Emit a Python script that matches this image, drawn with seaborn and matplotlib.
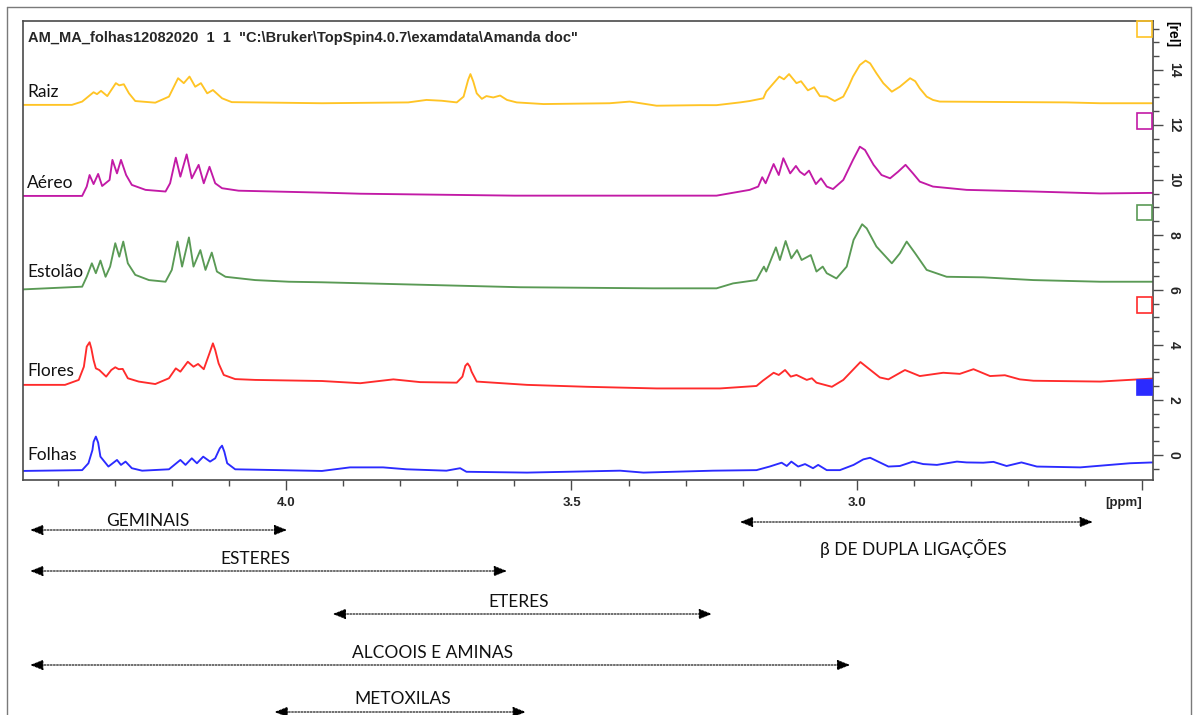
import matplotlib
matplotlib.use("Agg")
import matplotlib.pyplot as plt
from matplotlib.lines import Line2D
from matplotlib.patches import Rectangle
from matplotlib.ticker import MultipleLocator, FixedLocator, FixedFormatter
import matplotlib.transforms as mtransforms
import pandas as pd
import seaborn as sns

# ---- stacked 1H spectra (chemical shift in ppm, relative intensity) ----
raiz_ppm = [4.462, 4.375, 4.357, 4.337, 4.331, 4.324, 4.313, 4.298, 4.292, 4.284,
            4.275, 4.264, 4.229, 4.205, 4.189, 4.179, 4.169, 4.159, 4.149, 4.138,
            4.128, 4.112, 4.095, 3.937, 3.786, 3.754, 3.727, 3.701, 3.689, 3.681,
            3.677, 3.672, 3.666, 3.657, 3.649, 3.637, 3.625, 3.613, 3.596, 3.549,
            3.433, 3.398, 3.351, 3.275, 3.246, 3.205, 3.188, 3.164, 3.159, 3.136,
            3.128, 3.119, 3.106, 3.098, 3.086, 3.075, 3.065, 3.053, 3.039, 3.024,
            3.015, 3.007, 2.995, 2.985, 2.977, 2.966, 2.954, 2.939, 2.925, 2.907,
            2.898, 2.890, 2.878, 2.867, 2.855, 2.633, 2.574, 2.482]
raiz_int = [12.73, 12.73, 12.85, 13.19, 13.12, 13.24, 13.05, 13.52, 13.44, 13.48,
            13.15, 12.87, 12.81, 13.03, 13.70, 13.52, 13.76, 13.39, 13.52, 13.15,
            13.27, 12.97, 12.83, 12.79, 12.82, 12.91, 12.88, 12.82, 13.03, 13.64,
            13.85, 13.58, 13.15, 12.95, 13.05, 13.00, 13.07, 12.91, 12.82, 12.76,
            12.79, 12.85, 12.70, 12.72, 12.72, 12.82, 12.87, 12.97, 13.21, 13.76,
            13.66, 13.85, 13.52, 13.59, 13.26, 13.37, 13.05, 13.03, 12.87, 13.03,
            13.39, 13.76, 14.18, 14.34, 14.24, 13.88, 13.52, 13.21, 13.39, 13.70,
            13.59, 13.33, 13.03, 12.91, 12.85, 12.82, 12.79, 12.79]

aereo_ppm = [4.462, 4.357, 4.349, 4.344, 4.337, 4.329, 4.322, 4.309, 4.304, 4.296,
             4.289, 4.280, 4.270, 4.246, 4.211, 4.203, 4.193, 4.185, 4.174, 4.165,
             4.153, 4.144, 4.134, 4.124, 4.112, 4.083, 3.937, 3.870, 3.600, 3.246,
             3.188, 3.173, 3.166, 3.160, 3.146, 3.137, 3.129, 3.117, 3.107, 3.100,
             3.092, 3.084, 3.072, 3.063, 3.053, 3.042, 3.024, 3.007, 2.995, 2.986,
             2.971, 2.957, 2.942, 2.928, 2.915, 2.902, 2.890, 2.867, 2.808, 2.691,
             2.574, 2.482]
aereo_int = [9.42, 9.42, 9.76, 10.18, 9.85, 10.22, 9.78, 10.00, 10.73, 10.24,
             10.73, 10.18, 9.82, 9.64, 9.58, 9.88, 10.81, 10.12, 10.93, 10.06,
             10.55, 9.88, 10.48, 9.88, 9.70, 9.61, 9.54, 9.50, 9.43, 9.43,
             9.64, 9.76, 10.10, 9.88, 10.58, 10.18, 10.79, 10.24, 10.51, 10.30,
             10.18, 10.34, 9.85, 10.06, 9.76, 9.67, 10.00, 10.73, 11.21, 11.09,
             10.55, 10.18, 10.06, 10.30, 10.55, 10.24, 9.94, 9.76, 9.64, 9.58,
             9.51, 9.53]

estolao_ppm = [4.462, 4.357, 4.349, 4.340, 4.333, 4.325, 4.316, 4.308, 4.299, 4.292,
               4.285, 4.277, 4.264, 4.240, 4.211, 4.200, 4.190, 4.182, 4.170, 4.162,
               4.150, 4.141, 4.130, 4.121, 4.106, 4.054, 3.995, 3.937, 3.590, 3.357,
               3.246, 3.217, 3.176, 3.168, 3.163, 3.159, 3.142, 3.135, 3.125, 3.115,
               3.105, 3.097, 3.081, 3.071, 3.060, 3.053, 3.036, 3.018, 3.006, 2.991,
               2.983, 2.966, 2.939, 2.925, 2.913, 2.898, 2.878, 2.843, 2.779, 2.691,
               2.574, 2.482]
estolao_int = [6.02, 6.12, 6.48, 6.97, 6.61, 7.07, 6.48, 6.85, 7.70, 7.21,
               7.76, 6.97, 6.55, 6.36, 6.30, 6.73, 7.76, 6.85, 7.91, 6.85,
               7.45, 6.73, 7.36, 6.67, 6.48, 6.36, 6.30, 6.28, 6.10, 6.06,
               6.06, 6.24, 6.36, 6.67, 6.85, 6.67, 7.55, 7.09, 7.78, 7.15,
               7.45, 7.09, 7.27, 6.67, 6.85, 6.61, 6.42, 6.85, 7.82, 8.39,
               8.24, 7.58, 6.97, 7.33, 7.76, 7.33, 6.73, 6.48, 6.46, 6.36,
               6.30, 6.30]

flores_ppm = [4.462, 4.387, 4.363, 4.354, 4.349, 4.344, 4.341, 4.337, 4.333, 4.327,
              4.315, 4.306, 4.299, 4.293, 4.286, 4.277, 4.258, 4.229, 4.205, 4.193,
              4.185, 4.172, 4.162, 4.154, 4.144, 4.134, 4.128, 4.124, 4.118, 4.109,
              4.089, 4.054, 3.937, 3.870, 3.812, 3.765, 3.701, 3.691, 3.686, 3.682,
              3.678, 3.675, 3.666, 3.578, 3.473, 3.351, 3.240, 3.176, 3.165, 3.146,
              3.137, 3.126, 3.116, 3.106, 3.088, 3.079, 3.071, 3.044, 3.024, 2.994,
              2.960, 2.945, 2.916, 2.890, 2.849, 2.820, 2.796, 2.767, 2.741, 2.715,
              2.691, 2.574, 2.482]
flores_int = [2.55, 2.55, 2.73, 3.21, 3.94, 4.10, 3.88, 3.45, 3.15, 3.09,
              2.85, 3.09, 3.19, 3.12, 3.13, 2.79, 2.67, 2.58, 2.79, 3.15,
              3.03, 3.39, 3.21, 3.31, 3.12, 3.70, 4.06, 3.82, 3.33, 2.91,
              2.76, 2.73, 2.69, 2.61, 2.75, 2.65, 2.63, 2.85, 3.24, 3.33,
              3.21, 3.03, 2.67, 2.55, 2.48, 2.42, 2.42, 2.51, 2.70, 2.99,
              2.91, 3.09, 2.85, 2.91, 2.73, 2.79, 2.63, 2.48, 2.73, 3.38,
              2.82, 2.75, 3.09, 2.87, 2.99, 2.95, 3.12, 2.87, 2.90, 2.75,
              2.70, 2.67, 2.78]

folhas_ppm = [4.462, 4.357, 4.346, 4.339, 4.337, 4.333, 4.329, 4.325, 4.311, 4.296,
              4.289, 4.281, 4.270, 4.252, 4.205, 4.185, 4.176, 4.165, 4.156, 4.145,
              4.133, 4.124, 4.116, 4.112, 4.108, 4.103, 4.089, 3.937, 3.888, 3.830,
              3.789, 3.719, 3.695, 3.684, 3.578, 3.415, 3.374, 3.252, 3.176, 3.153,
              3.132, 3.123, 3.115, 3.103, 3.091, 3.077, 3.068, 3.053, 3.030, 3.006,
              2.989, 2.977, 2.966, 2.945, 2.925, 2.902, 2.884, 2.860, 2.825, 2.808,
              2.779, 2.761, 2.738, 2.712, 2.685, 2.609, 2.557, 2.522, 2.482]
folhas_int = [-0.58, -0.55, -0.30, 0.18, 0.48, 0.67, 0.45, -0.06, -0.42, -0.18,
              -0.36, -0.24, -0.48, -0.57, -0.52, -0.18, -0.36, -0.12, -0.30, -0.06,
              -0.24, -0.12, 0.24, 0.34, 0.12, -0.30, -0.52, -0.58, -0.45, -0.45,
              -0.52, -0.57, -0.48, -0.61, -0.64, -0.57, -0.64, -0.57, -0.55, -0.42,
              -0.28, -0.40, -0.24, -0.42, -0.33, -0.48, -0.36, -0.55, -0.55, -0.36,
              -0.16, -0.10, -0.21, -0.42, -0.40, -0.24, -0.33, -0.36, -0.24, -0.27,
              -0.28, -0.25, -0.40, -0.27, -0.42, -0.45, -0.36, -0.30, -0.27]

sample_names = ["Raiz", "Aéreo", "Estolão", "Flores", "Folhas"]
sample_colors = ["#FFC425", "#C21AA6", "#5A9A55", "#FF2B2B", "#2B2BFF"]
name_levels = [13.0, 9.72, 6.48, 2.87, -0.18]      # baseline of each sample name
marker_levels = [15.49, 12.15, 8.82, 5.45, 2.45]    # trace selector boxes

# ---- chemical-shift regions marked under the axis ----
region_names = ["GEMINAIS", "ESTERES", "ETERES", "ALCOOIS E AMINAS", "METOXILAS",
                "β DE DUPLA LIGAÇÕES"]
region_start = [4.448, 4.448, 3.918, 4.448, 4.020, 3.205]
region_end = [3.998, 3.613, 3.254, 3.012, 3.580, 2.587]
region_label_ppm = [4.242, 4.054, 3.592, 3.743, 3.795, 2.902]

title_text = 'AM_MA_folhas12082020  1  1  "C:\\Bruker\\TopSpin4.0.7\\examdata\\Amanda doc"'

# ------------------------------------------------------------------------
sns.set_style("white")
plt.rcParams["font.family"] = ["Lato", "DejaVu Sans"]
bold_family = ["Liberation Sans", "DejaVu Sans"]

W, H = 1195, 715
fig = plt.figure(figsize=(W / 100, H / 100), dpi=100)
ax = fig.add_axes([23 / W, 1 - 480 / H, (1153 - 23) / W, (480 - 21) / H])

traces = [(raiz_ppm, raiz_int), (aereo_ppm, aereo_int), (estolao_ppm, estolao_int),
          (flores_ppm, flores_int), (folhas_ppm, folhas_int)]
for (ppm, inten), name, col in zip(traces, sample_names, sample_colors):
    df = pd.DataFrame({"ppm": ppm, "intensity": inten})
    sns.lineplot(data=df, x="ppm", y="intensity", ax=ax, color=col, lw=1.35,
                 sort=False, estimator=None)

ax.set_xlim(4.4606, 2.4816)
ax.set_ylim(-0.909, 15.78)
ax.set_xlabel("")
ax.set_ylabel("")

frame_col = "#4a4a4a"
for sp in ax.spines.values():
    sp.set_color(frame_col)
    sp.set_linewidth(1.2)
    sp.set_visible(True)

# x axis: ticks every 0.1 ppm, labels every 0.5 ppm
ax.xaxis.set_major_locator(FixedLocator([4.0, 3.5, 3.0, 2.5]))
ax.xaxis.set_major_formatter(FixedFormatter(["4.0", "3.5", "3.0", "[ppm]"]))
ax.xaxis.set_minor_locator(MultipleLocator(0.1))
ax.tick_params(axis="x", which="major", direction="out", length=7, width=1,
               color=frame_col, pad=5, bottom=True, top=False)
ax.tick_params(axis="x", which="minor", direction="out", length=4.5, width=1,
               color=frame_col, bottom=True, top=False)
xlabels = ax.get_xticklabels()
for lab in xlabels:
    lab.set_fontfamily(bold_family)
    lab.set_fontweight("bold")
    lab.set_fontsize(9.5)
xlabels[-1].set_horizontalalignment("right")
ax.set_xticklabels(xlabels)

# intensity axis on the right
ax.yaxis.tick_right()
ax.yaxis.set_major_locator(FixedLocator([0, 2, 4, 6, 8, 10, 12, 14]))
ax.yaxis.set_minor_locator(MultipleLocator(0.5))
ax.tick_params(axis="y", which="major", direction="out", length=7, width=1,
               color=frame_col, pad=3, right=True, left=False)
ax.tick_params(axis="y", which="minor", direction="out", length=4, width=1,
               color=frame_col, right=True, left=False)
for lab in ax.get_yticklabels():
    lab.set_fontfamily(bold_family)
    lab.set_fontweight("bold")
    lab.set_fontsize(10)
    lab.set_rotation(-90)
    lab.set_verticalalignment("center")
ax.text(1.0105, 15.3, "[rel]", transform=ax.get_yaxis_transform(), rotation=-90,
        ha="left", va="center", fontsize=10, fontweight="bold",
        fontfamily=bold_family, color="black")

# sample names and selector boxes
for name, lvl in zip(sample_names, name_levels):
    ax.text(4.453, lvl, name, ha="left", va="baseline", fontsize=12.5, color="#111111")

box_tr = mtransforms.blended_transform_factory(ax.transAxes, ax.transData)
bw = 15 / ((1153 - 23))
bh = 0.56
for i, (col, lvl) in enumerate(zip(sample_colors, marker_levels)):
    filled = i == 4
    ax.add_patch(Rectangle((1 - bw - 0.0005, lvl - bh / 2), bw, bh, transform=box_tr,
                           facecolor=col if filled else "none", edgecolor=col,
                           lw=1.2, clip_on=False, zorder=5))

# title line inside the frame
fig.text(28 / W, 1 - 38 / H, title_text, ha="left", va="center", fontsize=10.5,
         fontweight="bold", fontfamily=bold_family)

# region arrows below the axis
arrow_y = [530, 571, 614, 665, 712, 522]
label_y = [521, 559, 602, 653, 699, 548]
for name, x0, x1, xl, ay, ly in zip(region_names, region_start, region_end,
                                    region_label_ppm, arrow_y, label_y):
    ax.annotate("", xy=(x1, 1 - ay / H), xytext=(x0, 1 - ay / H),
                xycoords=("data", "figure fraction"),
                textcoords=("data", "figure fraction"),
                annotation_clip=False,
                arrowprops=dict(arrowstyle="<|-|>,head_length=0.8,head_width=0.32",
                                color="black", lw=0.8, linestyle=(0, (1.6, 1.2)),
                                shrinkA=0, shrinkB=0))
    ax.annotate(name, xy=(xl, 1 - ly / H), xycoords=("data", "figure fraction"),
                ha="center", va="center", fontsize=12.5, color="#111111",
                annotation_clip=False)

# outer border of the panel
border = "#7a7a7a"
fig.add_artist(Line2D([7 / W, 7 / W], [0, 1 - 7 / H], transform=fig.transFigure,
                      color=border, lw=1))
fig.add_artist(Line2D([7 / W, 1191 / W], [1 - 7 / H, 1 - 7 / H],
                      transform=fig.transFigure, color=border, lw=1))
fig.add_artist(Line2D([1191 / W, 1191 / W], [0, 1 - 7 / H], transform=fig.transFigure,
                      color=border, lw=1))

fig.savefig("out.png", dpi=100)
